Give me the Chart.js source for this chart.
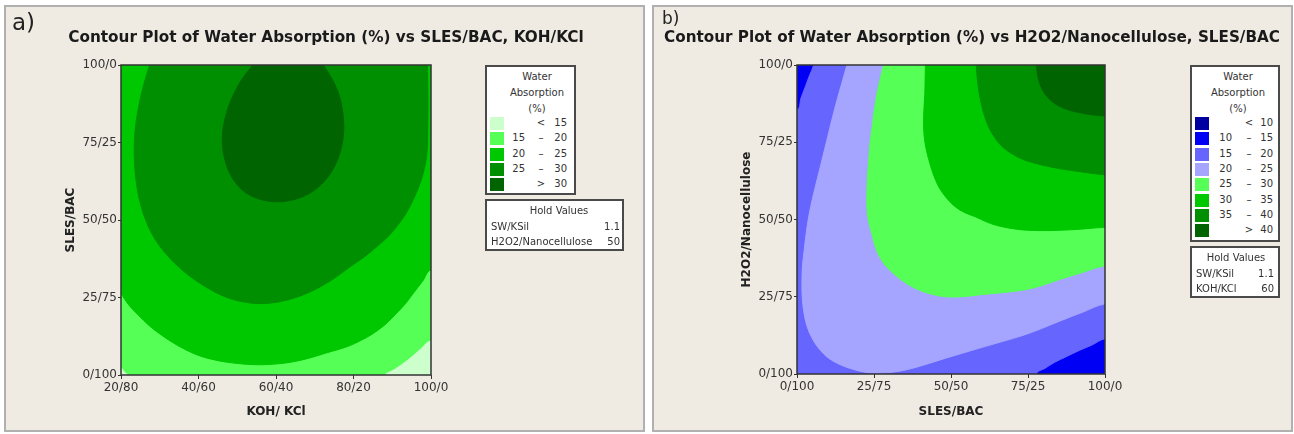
<!DOCTYPE html>
<html>
<head>
<meta charset="utf-8">
<script src="https://cdn.jsdelivr.net/npm/chart.js"></script>
<style>
  body { margin: 0; width: 1294px; height: 434px; position: relative; overflow: hidden; background: #fff; font-family: "DejaVu Sans", sans-serif; color: #333; }
  .panel { position: absolute; top: 5px; height: 427px; width: 641px; box-sizing: border-box; background: #efebe3; border: 2px solid #b0b0b0; }
  canvas { position: absolute; top: 0; }
  .tag { position: absolute; color: #222; }
  .title { position: absolute; white-space: nowrap; font-weight: bold; color: #1a1a1a; transform: translate(-50%, -50%); }
  .box { position: absolute; box-sizing: border-box; background: #fff; border: 2px solid #4a4a4a; font-size: 10px; color: #333; }
  .box div { position: absolute; white-space: nowrap; line-height: 12px; }
</style>
</head>
<body>
<div class="panel" style="left:4px"></div>
<div class="panel" style="left:652px"></div>
<canvas id="chartA" width="647" height="434" style="left:0"></canvas>
<canvas id="chartB" width="647" height="434" style="left:647px"></canvas>
<div class="tag" style="left:12px;top:9px;font-size:23px">a)</div>
<div class="tag" style="left:662px;top:8px;font-size:17px">b)</div>
<div class="title" id="titleA" style="left:326px;top:37px;font-size:14px">Contour Plot of Water Absorption (%) vs SLES/BAC, KOH/KCl</div>
<div class="title" id="titleB" style="left:972px;top:37px;font-size:14px">Contour Plot of Water Absorption (%) vs H2O2/Nanocellulose, SLES/BAC</div>
<div class="box" id="legA" style="left:485px;top:65px;width:91px;height:130px"></div>
<div class="box" id="holdA" style="left:485px;top:199px;width:139px;height:52px"></div>
<div class="box" id="legB" style="left:1190px;top:65px;width:90px;height:177px"></div>
<div class="box" id="holdB" style="left:1190px;top:246px;width:90px;height:52px"></div>
<script>
// ---- shared tick labels ----
const yTicks = [0, 25, 50, 75, 100];
const yLabels = ['0/100', '25/75', '50/50', '75/25', '100/0'];

// ---- panel a: SLES/BAC vs KOH/KCl ----
const aXTicks = [20, 40, 60, 80, 100];
const aXLabels = ['20/80', '40/60', '60/40', '80/20', '100/0'];
const aLow = [null, 15, 20, 25, 30];
const aHigh = [15, 20, 25, 30, null];
const aColors = ['#ccffcc', '#55ff55', '#00c800', '#008f00', '#006500'];
const aHoldNames = ['SW/KSil', 'H2O2/Nanocellulose'];
const aHoldValues = ['1.1', '50'];
// regions where absorption is above each level, points [KOH, SLES]
const aAbove15 = [[10, 110], [110, 110], [110, 11.3], [100, 11.3], [97, 8.3], [93.7, 4.8], [90.5, 2], [88.1, 0], [88, -10],
  [23, -10], [21.8, 0], [20.8, 1.4], [20, 2.6], [10, 2.8]];
const aAbove20 = [[20, 26.3], [22, 22.6], [24.4, 19.4], [27.2, 16], [30.4, 12.9], [34.5, 9.6], [39, 6.8], [43, 5.2],
  [47.5, 4.1], [52, 3.5], [56, 3.3], [60.5, 3.6], [64.6, 4.3], [69, 5.6], [73.2, 7.2], [78.5, 9.2], [82, 11.2],
  [85.1, 13.4], [88.3, 16.4], [91.1, 19.9], [93.4, 23], [95.4, 26.3], [97.8, 30.2], [100, 33.9], [110, 34],
  [110, 110], [10, 110], [10, 26.3]];
const aAbove25 = [[27.4, 100], [25.6, 92.5], [24.4, 85.5], [23.6, 78.5], [23.4, 71.5], [23.7, 64.8], [24.4, 58.6],
  [25.2, 54.4], [26.2, 50.5], [28, 45.5], [30.4, 40.9], [33.6, 36.4], [37.3, 32.3], [41.4, 28.8], [45.8, 25.8],
  [50, 24], [54.4, 23.1], [58.6, 23.2], [62.9, 24.2], [67.3, 26], [71.5, 28.5], [75.4, 31.5], [79.1, 34.9],
  [82.7, 38], [86, 41.4], [88.8, 44.5], [91.1, 47.8], [93.5, 52], [95.4, 56.5], [97, 61.2], [98.2, 66.1],
  [98.9, 71], [99.1, 76], [99.2, 88], [99.1, 100], [99, 110], [27.8, 110]];
const aAbove30 = [[56.5, 104], [53.4, 99], [51, 95], [49.2, 90.9], [47.8, 86.8], [46.8, 82.5], [46.2, 78], [46.2, 74],
  [46.7, 70], [47.8, 65.8], [49.6, 62], [52, 59], [55.3, 56.9], [59.5, 55.9], [63.6, 56.3], [67.6, 57.9],
  [71, 60.7], [73.8, 64.6], [75.9, 69.5], [77.1, 74.8], [77.5, 80], [77.2, 85], [76.4, 89.8], [75, 94.2],
  [73, 98.5], [70.5, 103]];

// ---- panel b: H2O2/Nanocellulose vs SLES/BAC ----
const bXTicks = [0, 25, 50, 75, 100];
const bXLabels = ['0/100', '25/75', '50/50', '75/25', '100/0'];
const bLow = [null, 10, 15, 20, 25, 30, 35, 40];
const bHigh = [10, 15, 20, 25, 30, 35, 40, null];
const bColors = ['#0000a0', '#0000f5', '#6666ff', '#a5a5ff', '#55ff55', '#00c800', '#008f00', '#006500'];
const bHoldNames = ['SW/KSil', 'KOH/KCl'];
const bHoldValues = ['1.1', '60'];
// points [SLES, H2O2]
const bAbove15 = [[5.6, 103], [5.4, 100], [4, 96.5], [2.7, 93], [1.3, 89.3], [0, 85.4], [-10, 85], [-10, -10],
  [77.7, -10], [77.7, 0], [80.6, 1.9], [83.7, 3.8], [87.6, 5.7], [91.6, 7.6], [95.8, 9.4], [100, 11.4],
  [110, 11.6], [110, 110], [5.8, 110]];
const bAbove20 = [[16.2, 100], [14.6, 94.3], [13, 88.7], [11.3, 82.2], [9.7, 75.7], [8.1, 69.2], [6.5, 62.8],
  [5, 56.7], [3.8, 50.9], [3, 45.7], [2.4, 40.7], [1.8, 35.2], [1.6, 29.9], [1.7, 24.8], [2.2, 20.2], [3.2, 15.6],
  [4.9, 11.6], [7.3, 8], [10.3, 5.1], [14.3, 2.9], [18.9, 1.3], [22.6, 0.5], [26.5, 0.3], [31.9, 0.7], [37.3, 1.8],
  [42.8, 3.4], [48.2, 5.1], [53.6, 6.7], [59, 8.3], [66.3, 10.4], [73.7, 12.6], [79.4, 14.7], [85, 17], [92.5, 19.9],
  [100, 22.7], [110, 23], [110, 110], [16.5, 110]];
const bAbove25 = [[28.1, 100], [27, 95.4], [26, 90.8], [25.1, 85.4], [24.4, 80], [23.7, 74.6], [23.3, 69.3],
  [22.9, 63.9], [22.7, 58.5], [22.7, 54.5], [23, 50.9], [23.6, 47.8], [24.4, 45], [25.3, 41.6], [26.5, 38.5],
  [28.8, 35], [31.9, 32], [35.5, 29.3], [39.5, 27.2], [43.8, 25.8], [48.2, 25], [53.6, 25], [59, 25.6],
  [66.4, 26.3], [73.7, 27.2], [79.4, 28.6], [85, 30.5], [92.5, 32.8], [100, 35], [110, 35.2], [110, 110], [28.4, 110]];
const bAbove30 = [[41.7, 100], [41.6, 95.4], [41.5, 90.8], [41.2, 85.4], [41.1, 80], [41.6, 74.5], [42.8, 69.3],
  [44.2, 64.8], [46, 60.6], [48.5, 57], [51.4, 54.1], [54.5, 52.2], [57.9, 50.9], [61.1, 49.4], [64.4, 48.2],
  [69, 47.2], [73.7, 46.6], [79.4, 46.4], [85, 46.5], [92.5, 46.9], [100, 47.5], [110, 47.5], [110, 110], [41.8, 110]];
const bAbove35 = [[58.2, 100], [58.6, 95], [59.3, 90], [60.5, 84.8], [62.2, 80], [64.2, 76.5], [66.6, 73.6],
  [69.9, 71.2], [73.7, 69.3], [79.3, 67.7], [85, 66.5], [92.5, 65.4], [100, 64.5], [110, 64.5], [110, 110], [58, 110]];
const bAbove40 = [[77.7, 100], [78.1, 96.8], [78.8, 94], [79.8, 91.8], [81, 90], [82.6, 88.4], [84.5, 87],
  [87.2, 85.8], [90.3, 84.9], [95, 84], [100, 83.5], [110, 83.5], [110, 110], [77.5, 110]];

const FONT = '"DejaVu Sans", sans-serif';

// fills the plot with the lowest level and draws the frame
const plotFrame = {
  id: 'plotFrame',
  beforeDatasetsDraw(chart, args, opts) {
    const a = chart.chartArea, ctx = chart.ctx;
    ctx.save();
    ctx.fillStyle = opts.base;
    ctx.fillRect(a.left, a.top, a.right - a.left, a.bottom - a.top);
    ctx.restore();
  },
  afterDatasetsDraw(chart) {
    const a = chart.chartArea, ctx = chart.ctx;
    ctx.save();
    ctx.strokeStyle = '#333';
    ctx.lineWidth = 1.5;
    ctx.strokeRect(a.left, a.top, a.right - a.left, a.bottom - a.top);
    ctx.restore();
  }
};

function contourChart(id, c) {
  const H = 434, W = 647;
  return new Chart(document.getElementById(id), {
    type: 'scatter',
    data: {
      datasets: c.regions.map((r, i) => ({
        data: r.pts.map(p => ({ x: p[0], y: p[1] })),
        showLine: true,
        fill: 'shape',
        tension: 0.35,
        backgroundColor: r.color,
        borderColor: r.color,
        borderWidth: 1,
        pointRadius: 0,
        pointHoverRadius: 0,
        clip: 0,
        order: c.regions.length - i
      }))
    },
    options: {
      responsive: false,
      animation: false,
      devicePixelRatio: 1,
      events: [],
      elements: { line: { capBezierPoints: false } },
      layout: { padding: { left: 0, top: c.area.top, right: W - c.area.right, bottom: 0 } },
      plugins: { legend: { display: false }, tooltip: { enabled: false }, plotFrame: { base: c.base } },
      scales: {
        x: {
          type: 'linear', min: c.xTicks[0], max: c.xTicks[c.xTicks.length - 1],
          afterBuildTicks: s => { s.ticks = c.xTicks.map(v => ({ value: v })); },
          afterFit: s => { s.height = H - c.area.bottom; },
          ticks: { callback: v => c.xLabels[c.xTicks.indexOf(v)], color: '#333', font: { family: FONT, size: 12 },
            maxRotation: 0, autoSkip: false, padding: 2 },
          grid: { drawOnChartArea: false, tickLength: 4, color: '#333' },
          border: { display: false },
          title: { display: true, text: c.xTitle, color: '#222', font: { family: FONT, size: 12, weight: 'bold' },
            padding: { top: 0, bottom: 15 } }
        },
        y: {
          type: 'linear', min: 0, max: 100,
          afterBuildTicks: s => { s.ticks = yTicks.map(v => ({ value: v })); },
          afterFit: s => { s.width = c.area.left; },
          ticks: { callback: v => yLabels[yTicks.indexOf(v)], color: '#333', font: { family: FONT, size: 12 }, padding: 1 },
          grid: { drawOnChartArea: false, tickLength: 3, color: '#333' },
          border: { display: false },
          title: { display: true, text: c.yTitle, color: '#222', font: { family: FONT, size: 12, weight: 'bold' },
            padding: { top: c.yTitleX - 7, bottom: 0 } }
        }
      }
    },
    plugins: [plotFrame]
  });
}

contourChart('chartA', {
  area: { left: 121, right: 431, top: 65, bottom: 375 },
  xTicks: aXTicks, xLabels: aXLabels, xTitle: 'KOH/ KCl', yTitle: 'SLES/BAC', yTitleX: 71,
  base: aColors[0],
  regions: [
    { pts: aAbove15, color: aColors[1] },
    { pts: aAbove20, color: aColors[2] },
    { pts: aAbove25, color: aColors[3] },
    { pts: aAbove30, color: aColors[4] }
  ]
});

contourChart('chartB', {
  area: { left: 150, right: 458, top: 65, bottom: 374 },
  xTicks: bXTicks, xLabels: bXLabels, xTitle: 'SLES/BAC', yTitle: 'H2O2/Nanocellulose', yTitleX: 100,
  base: bColors[1],
  regions: [
    { pts: bAbove15, color: bColors[2] },
    { pts: bAbove20, color: bColors[3] },
    { pts: bAbove25, color: bColors[4] },
    { pts: bAbove30, color: bColors[5] },
    { pts: bAbove35, color: bColors[6] },
    { pts: bAbove40, color: bColors[7] }
  ]
});

// ---- legends (HTML text) ----
function put(box, text, x, y, align) {
  const d = document.createElement('div');
  d.textContent = text;
  box.appendChild(d);
  const w = d.getBoundingClientRect().width;
  d.style.left = (align === 'right' ? x - w : align === 'center' ? x - w / 2 : x) + 'px';
  d.style.top = (y - 6) + 'px';
}
function legend(id, low, high, colors, L) {
  const box = document.getElementById(id);
  ['Water', 'Absorption', '(%)'].forEach((t, i) => put(box, t, L.titleX, 10 + i * 16, 'center'));
  low.forEach((lo, i) => {
    const y = 56 + i * L.pitch;
    const sw = document.createElement('div');
    sw.style.cssText = `left:${L.swX}px;top:${y - 6}px;width:14px;height:13px;background:${colors[i]}`;
    box.appendChild(sw);
    if (lo === null) { put(box, '<', L.dashX, y, 'center'); put(box, String(high[i]), L.hiX, y, 'right'); }
    else if (high[i] === null) { put(box, '>', L.dashX, y, 'center'); put(box, String(lo), L.hiX, y, 'right'); }
    else { put(box, String(lo), L.loX, y, 'right'); put(box, '–', L.dashX, y, 'center'); put(box, String(high[i]), L.hiX, y, 'right'); }
  });
}
function hold(id, names, values, centerX, rightX) {
  const box = document.getElementById(id);
  put(box, 'Hold Values', centerX, 10, 'center');
  names.forEach((n, i) => {
    put(box, n, 4, 26 + i * 15, 'left');
    put(box, values[i], rightX, 26 + i * 15, 'right');
  });
}
legend('legA', aLow, aHigh, aColors, { titleX: 50, swX: 3, loX: 38, dashX: 54, hiX: 80, pitch: 15.3 });
legend('legB', bLow, bHigh, bColors, { titleX: 46, swX: 3, loX: 40, dashX: 57, hiX: 81, pitch: 15.3 });
hold('holdA', aHoldNames, aHoldValues, 72, 133);
hold('holdB', bHoldNames, bHoldValues, 44, 82);

// fit the bold titles to their width in the reference
[['titleA', 516], ['titleB', 616]].forEach(([id, target]) => {
  const el = document.getElementById(id);
  const w = el.getBoundingClientRect().width;
  el.style.fontSize = (14 * target / w).toFixed(2) + 'px';
});
</script>
</body>
</html>
